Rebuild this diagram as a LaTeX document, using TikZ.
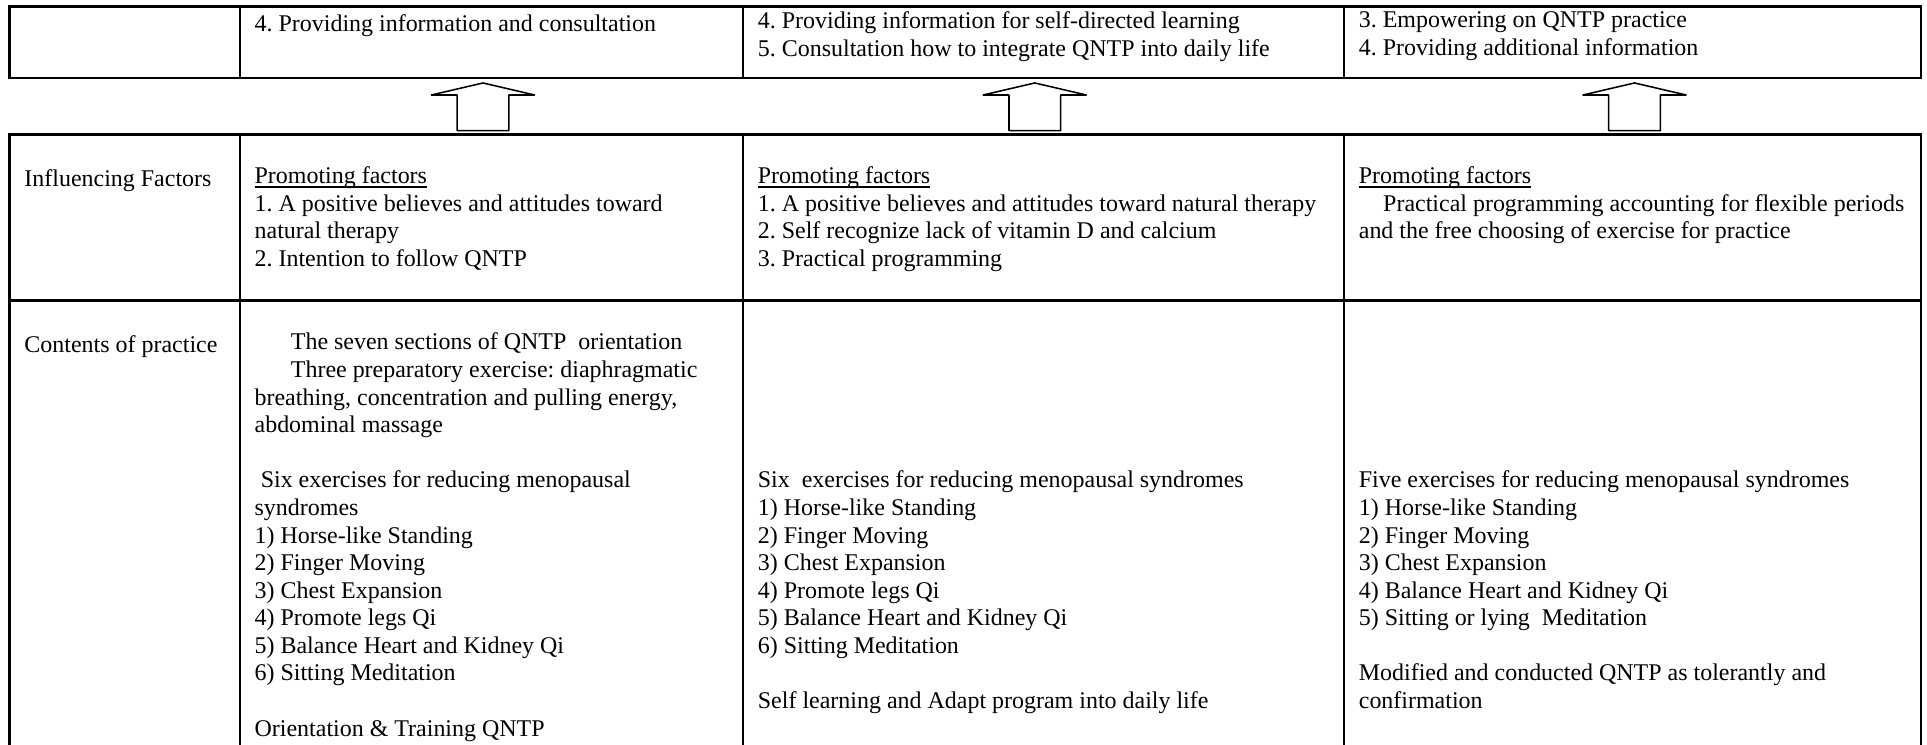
\documentclass[tikz,border=0pt]{standalone}
\usepackage{fontspec}
\setmainfont{Liberation Serif}
\frenchspacing
% underline sitting just below the baseline
\newcommand\ulinetext[1]{\setbox0\hbox{#1}\rlap{\rule[-3.3pt]{\wd0}{1.1pt}}\box0}
\begin{document}
\begin{tikzpicture}[x=1pt,y=-1pt,
  grid/.style={line width=1.9pt},
  uparrow/.style={line width=1.25pt, fill=white, line join=round},
  cell/.style={anchor=north west, inner sep=0pt, yshift=15.715pt, align=left,
    font=\fontsize{19.5}{22.45}\selectfont, execute at begin node=\strut},
]
\useasboundingbox (0,0) rectangle (1568,606);
\fill[white] (0,0) rectangle (1568,606);

% ---- upper table: one row of support activities
\draw[grid] (7.8,5.4) rectangle (1563,63.7);
\foreach \x in {195.5,604.5,1093.5}
  \draw[grid] (\x,5.4) -- (\x,63.7);

\node[cell] (t2) at (207,25.3) {4. Providing information and consultation};
\node[cell] (t3) at (616.5,25.3) {4. Providing information for self-directed learning\\5. Consultation how to integrate QNTP into daily life};
\node[cell] (t4) at (1105.5,25.3) {3. Empowering on QNTP practice\\4. Providing additional information};

% ---- block arrows pointing up to the upper table
\foreach \cx in {393,842,1330}
  \draw[uparrow] (\cx-21,106.3) -- (\cx-21,77.3) -- (\cx-42,77.3) -- (\cx,67.5)
    -- (\cx+42,77.3) -- (\cx+21,77.3) -- (\cx+21,106.3) -- cycle;

% ---- lower table: open at the bottom edge
\draw[grid] (7.8,606) -- (7.8,109.5) -- (1563,109.5) -- (1563,606);
\draw[grid] (7.8,244.6) -- (1563,244.6);
\foreach \x in {195.5,604.5,1093.5}
  \draw[grid] (\x,109.5) -- (\x,606);

% row: influencing factors
\node[cell] (f1) at (19.7,151.3) {Influencing Factors};
\node[cell] (f2) at (207,151.3) {\ulinetext{Promoting factors}\\1. A positive believes and attitudes toward\\natural therapy\\2. Intention to follow QNTP};
\node[cell] (f3) at (616.5,151.3) {\ulinetext{Promoting factors}\\1. A positive believes and attitudes toward natural therapy\\2. Self recognize lack of vitamin D and calcium\\3. Practical programming};
\node[cell] (f4) at (1105.5,151.3) {\ulinetext{Promoting factors}\\\hspace*{19.8pt}Practical programming accounting for flexible periods\\and the free choosing of exercise for practice};

% row: contents of practice
\node[cell] (c1) at (19.7,286.5) {Contents of practice};
\node[cell] (c2) at (207,286.5) {\hspace*{29.5pt}The seven sections of QNTP\ \ orientation\\\hspace*{29.5pt}Three preparatory exercise: diaphragmatic\\breathing, concentration and pulling energy,\\abdominal massage\\[22.45pt]\hspace*{5pt}Six exercises for reducing menopausal\\syndromes\\1) Horse-like Standing\\2) Finger Moving\\3) Chest Expansion\\4) Promote legs Qi\\5) Balance Heart and Kidney Qi\\6) Sitting Meditation\\[22.45pt]Orientation \& Training QNTP};
\node[cell] (c3) at (616.5,398.75) {Six\ \ exercises for reducing menopausal syndromes\\1) Horse-like Standing\\2) Finger Moving\\3) Chest Expansion\\4) Promote legs Qi\\5) Balance Heart and Kidney Qi\\6) Sitting Meditation\\[22.45pt]Self learning and Adapt program into daily life};
\node[cell] (c4) at (1105.5,398.75) {Five exercises for reducing menopausal syndromes\\1) Horse-like Standing\\2) Finger Moving\\3) Chest Expansion\\4) Balance Heart and Kidney Qi\\5) Sitting or lying\ \ Meditation\\[22.45pt]Modified and conducted QNTP as tolerantly and\\confirmation};
\end{tikzpicture}
\end{document}
